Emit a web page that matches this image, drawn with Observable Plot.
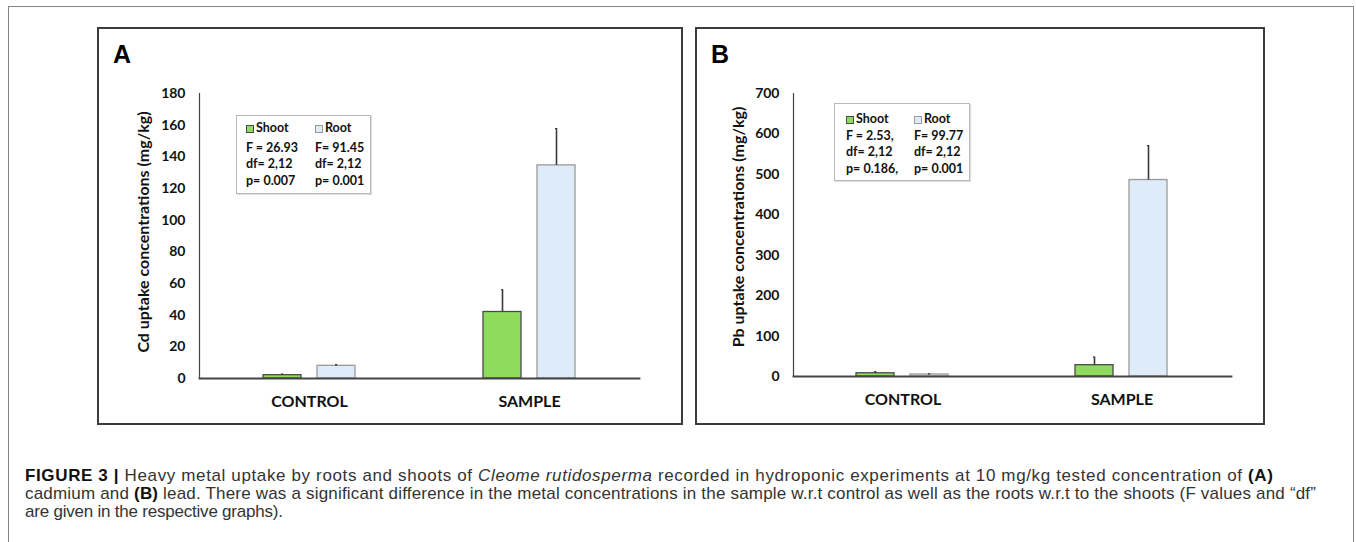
<!DOCTYPE html>
<html>
<head>
<meta charset="utf-8">
<script src="https://cdn.jsdelivr.net/npm/d3@7"></script>
<script src="https://cdn.jsdelivr.net/npm/@observablehq/plot@0.6"></script>
<style>
  html, body { margin: 0; padding: 0; background: #fff; }
  body { width: 1356px; height: 542px; position: relative; overflow: hidden; font-family: Lato, sans-serif; }
  #outer { position: absolute; left: 8px; top: 6px; width: 1346px; height: 600px; border: 1.5px solid #858585; box-sizing: border-box; }
  .panel { position: absolute; top: 27px; height: 398px; }
  .panel svg { display: block; }
  .pframe { position: absolute; left: 0; top: 0; right: 0; bottom: 0; border: 2px solid #3c3c3c; box-sizing: border-box; pointer-events: none; }
  .plabel { position: absolute; font-family: "Liberation Sans", Arial, sans-serif; font-weight: 700; font-size: 25px; line-height: 25px; color: #000; }
  .legend { position: absolute; border: 1px solid #b8b8b8; box-shadow: 1px 1px 1px rgba(0,0,0,0.12); background: #fff; box-sizing: border-box; }
  .li { position: absolute; font-family: Lato, sans-serif; font-weight: 700; font-size: 12.5px; line-height: 14px; color: #111; white-space: nowrap; transform: translateY(-50%); }
  .sw { display: inline-block; width: 8px; height: 8px; box-sizing: border-box; margin-right: 2px; vertical-align: -0.5px; }
  #caption { position: absolute; left: 25px; top: 467px; font-family: "Liberation Sans", Arial, sans-serif; font-size: 17px; color: #333; white-space: nowrap; }
  #caption .ln { height: 18px; line-height: 18px; }
  #caption .ln span { display: inline-block; }
  #caption b { color: #111; }
</style>
</head>
<body>
<div id="outer"></div>
<div id="panelA" class="panel" style="left:97px;width:586px;"></div>
<div id="panelB" class="panel" style="left:695px;width:570px;"></div>
<div id="legendA" class="legend" style="left:236px;top:115px;width:135px;height:79px;"></div>
<div id="legendB" class="legend" style="left:834px;top:103px;width:136px;height:78px;"></div>
<div id="caption"></div>
<script>
// ---------------- data ----------------
const categories = ["CONTROL", "SAMPLE"];
const series = ["Shoot", "Root"];

// Panel A: Cd uptake (mg/kg)
const cdShoot = [2.1, 42.0];
const cdShootErr = [0.6, 14.0];
const cdRoot = [8.0, 134.6];
const cdRootErr = [0.7, 23.2];
const cdTicks = [0, 20, 40, 60, 80, 100, 120, 140, 160, 180];
const cdStats = { Shoot: ["F = 26.93", "df= 2,12", "p= 0.007"], Root: ["F= 91.45", "df= 2,12", "p= 0.001"] };

// Panel B: Pb uptake (mg/kg)
const pbShoot = [8, 28];
const pbShootErr = [4, 20];
const pbRoot = [5, 486];
const pbRootErr = [1.5, 85];
const pbTicks = [0, 100, 200, 300, 400, 500, 600, 700];
const pbStats = { Shoot: ["F = 2.53,", "df= 2,12", "p= 0.186,"], Root: ["F= 99.77", "df= 2,12", "p= 0.001"] };

const captionLines = [
  '<b>FIGURE 3 |</b> Heavy metal uptake by roots and shoots of <i>Cleome rutidosperma</i> recorded in hydroponic experiments at 10 mg/kg tested concentration of <b>(A)</b>',
  'cadmium and <b>(B)</b> lead. There was a significant difference in the metal concentrations in the sample w.r.t control as well as the roots w.r.t to the shoots (F values and \u201cdf\u201d',
  'are given in the respective graphs).'
];
const captionWidths = [1248, 1291, 258];

const colors = { Shoot: { fill: "#8fdc5c", stroke: "#4a4a4a" }, Root: { fill: "#deecf9", stroke: "#9a9a9a" } };

function rowsFor(shoot, shootErr, root, rootErr) {
  const rows = [];
  categories.forEach((c, i) => {
    rows.push({ cat: c, series: "Shoot", value: shoot[i], hi: shoot[i] + shootErr[i] });
    rows.push({ cat: c, series: "Root", value: root[i], hi: root[i] + rootErr[i] });
  });
  return rows;
}

function makePanel({ rows, ticks, yLabel, width, height, margins, labelDx, labelDy }) {
  const ymax = ticks[ticks.length - 1];
  return Plot.plot({
    width, height,
    marginLeft: margins[0], marginRight: margins[1], marginTop: margins[2], marginBottom: margins[3],
    style: { background: "transparent", color: "#111", fontFamily: "Lato, sans-serif", fontWeight: 700 },
    fx: { domain: categories, padding: 0, axis: null },
    x: { domain: series, paddingInner: 0.29, paddingOuter: 1.15, axis: null },
    y: { domain: [0, ymax], axis: null },
    marks: [
      Plot.axisY({ ticks, tickSize: 0, tickPadding: 14, label: null, fontSize: 14, fontWeight: 700, fill: "#111", tickFormat: d => String(d) }),
      Plot.axisFx({ anchor: "bottom", tickSize: 0, tickPadding: 17, label: null, fontSize: 16, fontWeight: 700, fill: "#111" }),
      ...series.map(s => Plot.barY(rows, {
        filter: d => d.series === s, fx: "cat", x: "series", y: "value",
        fill: colors[s].fill, stroke: colors[s].stroke, strokeWidth: 1.3
      })),
      Plot.ruleX(rows, { fx: "cat", x: "series", y1: "value", y2: "hi", stroke: "#3a3a3a", strokeWidth: 1.6 }),
      Plot.tickY(rows, { fx: "cat", x: "series", y: "hi", insetLeft: 18, insetRight: 18, stroke: "#3a3a3a", strokeWidth: 1.3 }),
      Plot.frame({ anchor: "left", facet: "super", stroke: "#444", strokeWidth: 1.2 }),
      Plot.frame({ anchor: "bottom", facet: "super", stroke: "#444", strokeWidth: 1.8 }),
      Plot.text([{ cat: categories[0], t: yLabel }], { fx: "cat", frameAnchor: "left", textAnchor: "middle", lineAnchor: "middle",
        rotate: -90, dx: labelDx, dy: labelDy, text: "t", fontSize: 16, fontWeight: 700, fill: "#111" })
    ]
  });
}

const plotA = makePanel({
  rows: rowsFor(cdShoot, cdShootErr, cdRoot, cdRootErr), ticks: cdTicks,
  yLabel: "Cd uptake concentrations (mg/kg)", width: 586, height: 398,
  margins: [101, 44, 66, 47], labelDx: -56, labelDy: -4
});
const plotB = makePanel({
  rows: rowsFor(pbShoot, pbShootErr, pbRoot, pbRootErr), ticks: pbTicks,
  yLabel: "Pb uptake concentrations (mg/kg)", width: 570, height: 398,
  margins: [97, 34, 66, 49], labelDx: -55, labelDy: -8
});

function addPanel(id, plot, letter) {
  const el = document.getElementById(id);
  el.appendChild(plot);
  const lab = document.createElement("div");
  lab.className = "plabel"; lab.textContent = letter;
  lab.style.left = "16px"; lab.style.top = "15px";
  el.appendChild(lab);
  const fr = document.createElement("div"); fr.className = "pframe"; el.appendChild(fr);
}
addPanel("panelA", plotA, "A");
addPanel("panelB", plotB, "B");

function addLegend(id, stats, cols, rowsY) {
  const el = document.getElementById(id);
  series.forEach((s, j) => {
    const head = document.createElement("div");
    head.className = "li";
    head.style.left = cols[j] + "px"; head.style.top = rowsY[0] + "px";
    const sw = document.createElement("span");
    sw.className = "sw"; sw.style.background = colors[s].fill; sw.style.border = "1px solid " + colors[s].stroke;
    head.appendChild(sw);
    head.appendChild(document.createTextNode(s));
    el.appendChild(head);
    stats[s].forEach((t, k) => {
      const d = document.createElement("div");
      d.className = "li"; d.textContent = t;
      d.style.left = cols[j] + "px"; d.style.top = rowsY[k + 1] + "px";
      el.appendChild(d);
    });
  });
}
addLegend("legendA", cdStats, [9, 78], [12, 32, 48, 65]);
addLegend("legendB", pbStats, [11, 79], [15, 32, 48, 65]);

// caption, one line per row, spacing tuned to the measured line widths
const cap = document.getElementById("caption");
captionLines.forEach((html, i) => {
  const ln = document.createElement("div");
  ln.className = "ln";
  const sp = document.createElement("span");
  sp.innerHTML = html;
  ln.appendChild(sp);
  cap.appendChild(ln);
  const natural = sp.getBoundingClientRect().width;
  const chars = sp.textContent.length;
  const ls = (captionWidths[i] - natural) / Math.max(1, chars - 1);
  sp.style.letterSpacing = ls.toFixed(3) + "px";
});
</script>
</body>
</html>
